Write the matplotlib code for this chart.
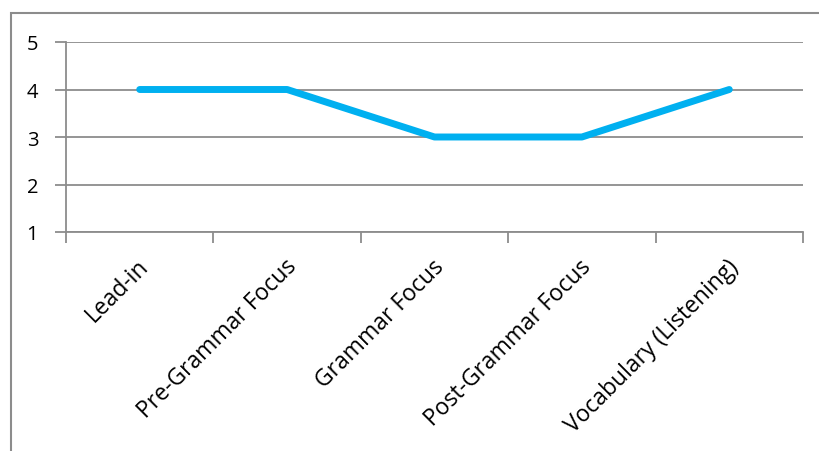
import matplotlib
matplotlib.use('Agg')

import matplotlib.pyplot as plt
import matplotlib.transforms as mtransforms
from matplotlib.patches import Rectangle
from matplotlib.ticker import FixedLocator

stages = ['Lead-in', 'Pre-Grammar Focus', 'Grammar Focus',
          'Post-Grammar Focus', 'Vocabulary (Listening)']
scores = [4, 4, 3, 3, 4]
y_ticks = [1, 2, 3, 4, 5]

LINE_COLOR = '#00B0F0'
GRID_COLOR = '#8c8c8c'

plt.rcParams['font.family'] = ['Open Sans', 'DejaVu Sans']

fig = plt.figure(figsize=(8.19, 4.52), dpi=100)
ax = fig.add_axes([66 / 819, 1 - 233 / 452, (803 - 66) / 819, (233 - 43) / 452])

# chart frame, runs off the right and bottom edges
fig.patches.append(Rectangle((11 / 819, -0.1), 1.0, 1 - 14 / 452 + 0.1,
                             transform=fig.transFigure, fill=False,
                             edgecolor='#8c8c8c', linewidth=1.5))

x = range(len(stages))
ax.plot(x, scores, color=LINE_COLOR, linewidth=5, solid_capstyle='round',
        solid_joinstyle='round', zorder=3)

ax.set_xlim(-0.5, len(stages) - 0.5)
ax.set_ylim(1, 5)
ax.set_yticks(y_ticks)
ax.yaxis.grid(True, color=GRID_COLOR, linewidth=1.3)
ax.set_axisbelow(True)

# category boundaries get the tick marks, names sit at the centres
ax.xaxis.set_major_locator(FixedLocator([i - 0.5 for i in range(len(stages) + 1)]))
ax.xaxis.set_major_formatter(plt.NullFormatter())
ax.xaxis.set_minor_locator(FixedLocator(list(x)))
ax.set_xticklabels(stages, minor=True, rotation=45, ha='right', va='top',
                   rotation_mode='anchor', fontsize=16.5)
ax.tick_params(axis='x', which='major', length=8, width=1.3, color=GRID_COLOR)
ax.tick_params(axis='x', which='minor', length=0, pad=16)
ax.tick_params(axis='y', length=8, width=1.3, color=GRID_COLOR, labelsize=14.5, pad=12)

shift = mtransforms.ScaledTranslation(-2 / 72, 0, fig.dpi_scale_trans)
for lbl in ax.xaxis.get_minorticklabels():
    lbl.set_transform(lbl.get_transform() + shift)

for side in ['top', 'right']:
    ax.spines[side].set_visible(False)
for side in ['left', 'bottom']:
    ax.spines[side].set_color(GRID_COLOR)
    ax.spines[side].set_linewidth(1.3)

fig.savefig('out.png', dpi=100)
